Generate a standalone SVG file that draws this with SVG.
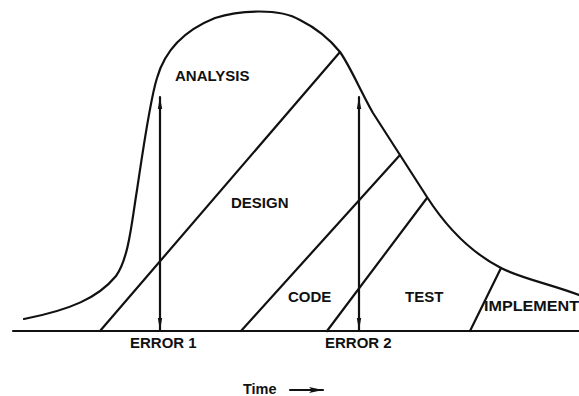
<svg xmlns="http://www.w3.org/2000/svg" width="579" height="396" viewBox="0 0 579 396">
<defs>
<style>
.ln{fill:none;stroke:#111;stroke-width:2.2;stroke-linecap:round;stroke-linejoin:round}
.lb{font-family:"Liberation Sans",Arial,sans-serif;font-weight:bold;font-size:15px;fill:#111}
.sm{font-family:"Liberation Sans",Arial,sans-serif;font-weight:bold;font-size:14.5px;fill:#111}
</style>
<marker id="ah" viewBox="0 0 12 6" refX="12" refY="3" markerWidth="12" markerHeight="6" markerUnits="userSpaceOnUse" orient="auto-start-reverse">
<path d="M0,0.8 L12,3 L0,5.2 Z" fill="#111"/>
</marker>
<marker id="ta" viewBox="0 0 14 8" refX="14" refY="4" markerWidth="14" markerHeight="8" markerUnits="userSpaceOnUse" orient="auto">
<path d="M0,1 L14,4 L0,7 L3,4 Z" fill="#111"/>
</marker>
</defs>
<rect width="579" height="396" fill="#fff"/>
<g id="connectors">
<path id="curve" class="ln" stroke-width="2.6" d="M24,319 C70,310 98,298 116,276 C129,258 132,220 137,190 C143,150 150,100 157,78 C165,50 185,30 215,18 C240,10 280,8 300,20 C318,29 332,42 340,52 C350,66 360,90 373,113 L400,155 L427,197 C445,225 470,252 501,268 C520,278 550,284 579,295"/>
<line id="baseline" class="ln" stroke-width="2.6" x1="13" y1="331" x2="579" y2="331"/>
<line id="l-design" class="ln" x1="100" y1="331" x2="340" y2="52"/>
<line id="l-code" class="ln" x1="241" y1="331" x2="400" y2="155"/>
<line id="l-test" class="ln" x1="327" y1="331" x2="427" y2="198"/>
<line id="l-impl" class="ln" x1="470" y1="331" x2="501" y2="268"/>
<line id="err1" class="ln" stroke-width="2" x1="160" y1="97" x2="160" y2="330" marker-start="url(#ah)" marker-end="url(#ah)"/>
<line id="err2" class="ln" stroke-width="2" x1="359" y1="97" x2="359" y2="330" marker-start="url(#ah)" marker-end="url(#ah)"/>
<line id="time-arrow" class="ln" stroke-width="2.2" x1="290" y1="390" x2="323" y2="390" marker-end="url(#ta)"/>
</g>
<g id="analysis"><text class="lb" x="175" y="81">ANALYSIS</text></g>
<g id="design"><text class="lb" x="231" y="208">DESIGN</text></g>
<g id="code"><text class="lb" x="288" y="302">CODE</text></g>
<g id="test"><text class="lb" x="405" y="302">TEST</text></g>
<g id="implement"><text class="lb" x="484" y="311" textLength="95" lengthAdjust="spacingAndGlyphs">IMPLEMENT</text></g>
<g id="error1"><text class="lb" x="130" y="348">ERROR 1</text></g>
<g id="error2"><text class="lb" x="325" y="348">ERROR 2</text></g>
<g id="time"><text class="sm" x="243" y="394">Time</text></g>
</svg>
